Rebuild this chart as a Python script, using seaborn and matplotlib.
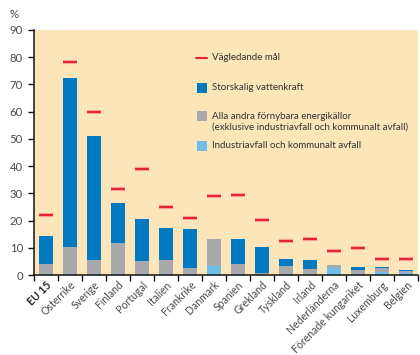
import numpy as np
import pandas as pd
import matplotlib
matplotlib.use("Agg")
import matplotlib.pyplot as plt
from matplotlib.patches import Rectangle
from matplotlib.lines import Line2D
import seaborn as sns

countries = ["EU 15", "Österrike", "Sverige", "Finland", "Portugal", "Italien",
             "Frankrike", "Danmark", "Spanien", "Grekland", "Tyskland", "Irland",
             "Nederländerna", "Förenade kungariket", "Luxemburg", "Belgien"]
hydro = [10.3, 62.1, 45.6, 14.7, 15.5, 11.7, 14.3, 0.0, 9.2, 9.7, 2.6, 3.3, 0.0, 1.1, 0.3, 0.4]
other = [3.6, 10.1, 5.3, 11.6, 4.7, 5.2, 2.3, 9.8, 3.8, 0.6, 2.9, 2.1, 1.1, 1.5, 1.4, 0.9]
waste = [0.4, 0.2, 0.2, 0.2, 0.4, 0.3, 0.3, 3.4, 0.2, 0.0, 0.4, 0.1, 2.6, 0.3, 1.2, 0.6]
targets = [22.1, 78.1, 60.0, 31.5, 39.0, 25.0, 21.0, 29.0, 29.4, 20.1, 12.5, 13.2, 9.0, 10.0, 5.7, 6.0]
yticks = [0, 10, 20, 30, 40, 50, 60, 70, 80, 90]

legend_labels = ["Vägledande mål", "Storskalig vattenkraft",
                 "Alla andra förnybara energikällor\n(exklusive industriavfall och kommunalt avfall)",
                 "Industriavfall och kommunalt avfall"]

C_BLUE = "#0079C2"
C_GRAY = "#A7A9AC"
C_LBLUE = "#6EBDEA"
C_BG = "#FDE5BA"
C_RED = "#E8262C"
C_TXT = "#4a4a4a"

sns.set_style("white")
plt.rcParams["font.family"] = ["Lato", "DejaVu Sans"]

df = pd.DataFrame({"land": countries, "hydro": hydro, "other": other, "waste": waste})
df["top"] = df["hydro"] + df["other"] + df["waste"]
df["mid"] = df["other"] + df["waste"]

fig = plt.figure(figsize=(4.2, 3.55), dpi=100)
ax = fig.add_axes([34 / 420, 1 - 275 / 355, 384 / 420, 245 / 355])
ax.set_facecolor(C_BG)

kw = dict(order=countries, width=0.58, saturation=1, errorbar=None, ax=ax, linewidth=0)
sns.barplot(data=df, x="land", y="top", color=C_BLUE, **kw)
sns.barplot(data=df, x="land", y="mid", color=C_GRAY, **kw)
sns.barplot(data=df, x="land", y="waste", color=C_LBLUE, **kw)

xs = np.arange(len(countries))
ax.hlines(targets, xs - 0.29, xs + 0.29, colors="#F4A7A0", linewidth=3.0, zorder=3)
ax.hlines(targets, xs - 0.29, xs + 0.29, colors=C_RED, linewidth=1.5, zorder=4)

ax.set_xlim(-0.5, len(countries) - 0.5)
ax.set_ylim(0, 90)
ax.set_yticks(yticks)
ax.set_xlabel("")
ax.set_ylabel("")

for s in ["top", "right"]:
    ax.spines[s].set_visible(False)
for s in ["left", "bottom"]:
    ax.spines[s].set_color("#111111")
    ax.spines[s].set_linewidth(1.1)

ax.tick_params(axis="y", direction="out", length=4, width=1, color="#111111",
               labelsize=8.2, labelcolor=C_TXT, pad=4, left=True)
ax.set_xticks(xs)
ax.set_xticklabels(countries, rotation=45, ha="right", va="top",
                   rotation_mode="anchor", fontsize=7.6, color=C_TXT)
ax.tick_params(axis="x", which="major", length=0, pad=3)
ax.set_xticks(np.arange(-0.5, len(countries), 1), minor=True)
ax.tick_params(axis="x", which="minor", direction="out", length=4, width=1,
               color="#111111", bottom=True)
ax.get_xticklabels()[0].set_fontweight("bold")
ax.get_xticklabels()[0].set_color("#222222")

fig.text(14 / 420, 1 - 15 / 355, "%", fontsize=8.2, color=C_TXT, ha="center", va="center")

# legend (manual placement in axes fraction)
def ax_x(px):
    return (px - 34) / 384

def ax_y(py):
    return (275 - py) / 245

ax.add_line(Line2D([ax_x(196), ax_x(207)], [ax_y(58), ax_y(58)], color=C_RED,
                   linewidth=1.5, transform=ax.transAxes))
for py, col in [(88, C_BLUE), (116, C_GRAY), (146, C_LBLUE)]:
    ax.add_patch(Rectangle((ax_x(197), ax_y(py + 5)), 10 / 384, 10 / 245,
                           color=col, transform=ax.transAxes, linewidth=0))
for py, lab in [(58, legend_labels[0]), (88, legend_labels[1]),
                (122, legend_labels[2]), (146, legend_labels[3])]:
    ax.text(ax_x(212), ax_y(py), lab, transform=ax.transAxes, fontsize=7.0,
            color="#333333", ha="left", va="center", linespacing=1.3)

fig.savefig("out.png", dpi=100)
